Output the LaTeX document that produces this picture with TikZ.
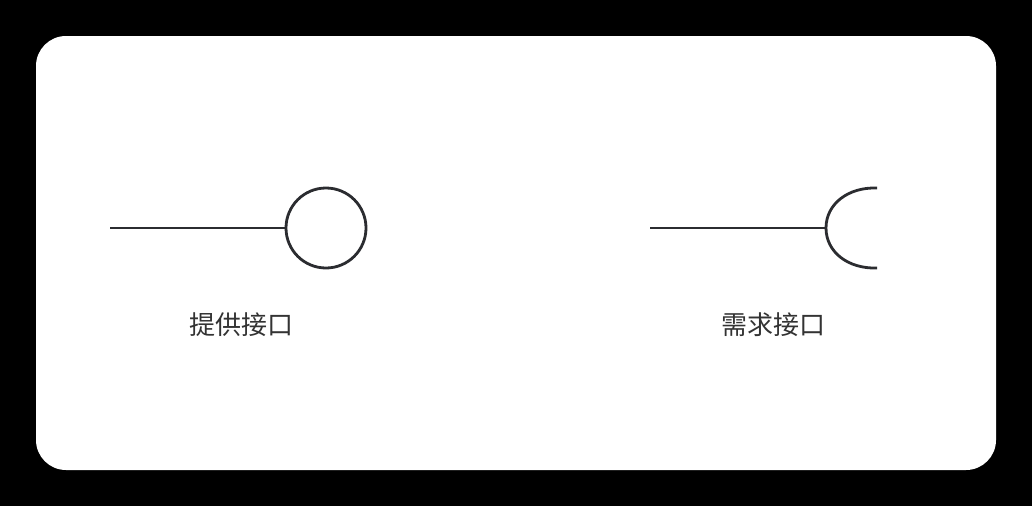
\documentclass[tikz,border=0pt]{standalone}
\usepackage{fontspec}
\newfontfamily\cjk{Noto Sans CJK SC}
\definecolor{linegray}{HTML}{2B2C30}
\definecolor{textgray}{HTML}{333333}
\begin{document}
\begin{tikzpicture}[x=1pt,y=-1pt,
    iface/.style={draw=linegray, line width=2.8pt},
    lbl/.style={text=textgray, font=\cjk\fontsize{26pt}{30pt}\selectfont, inner sep=0pt}]
    % Background and card
    \fill [black] (0,0) rectangle (1032,506);
    \fill [white, rounded corners=30pt] (36,36) rectangle (996,470);
    % Provided interface
    \coordinate (pstart) at (110,228);
    \node [iface, circle, minimum size=80pt, inner sep=0pt] (provided) at (326,228) {};
    \draw [iface] (pstart) -- (provided.west);
    \node [lbl] (plabel) at (241,325) {提供接口};
    % Required interface
    \coordinate (rstart) at (650,228);
    \coordinate (rsocket) at (826,228);
    \draw [iface] (rstart) -- (rsocket);
    \draw [iface] (877,188) .. controls (848,187) and (826,204) .. (rsocket)
        .. controls (826,252) and (848,269) .. (877,268);
    \node [lbl] (rlabel) at (773,325) {需求接口};
\end{tikzpicture}
\end{document}
